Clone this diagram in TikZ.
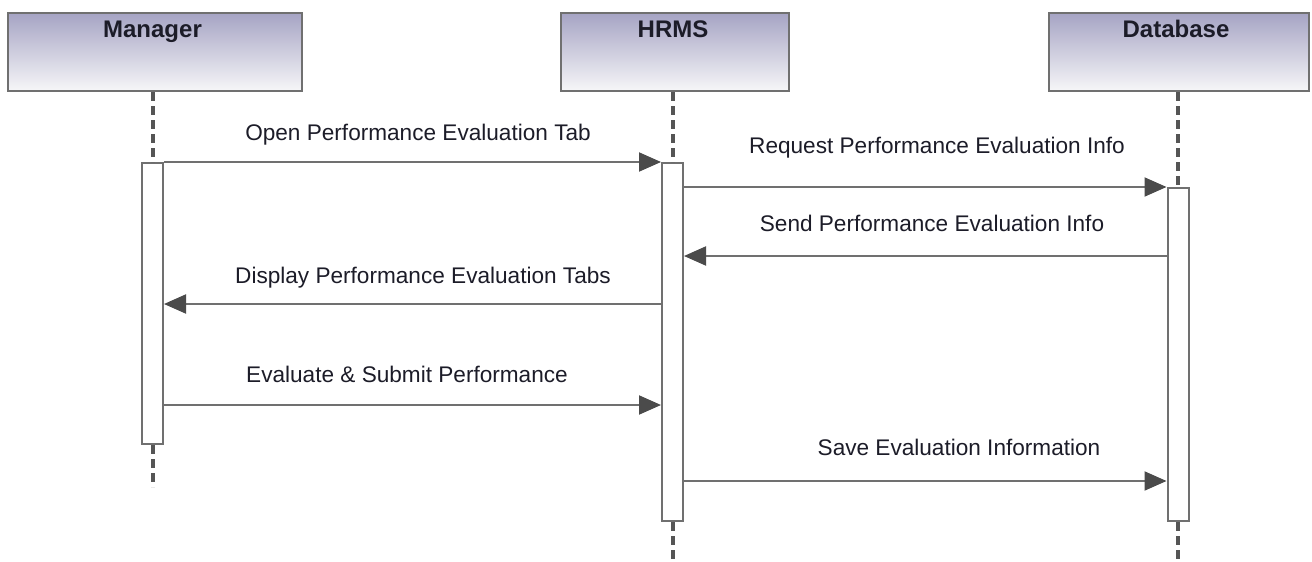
\documentclass[tikz,border=0pt]{standalone}
\usepackage{fontspec}
\setmainfont{Liberation Sans}
\usetikzlibrary{arrows.meta,calc}
\definecolor{hdrtop}{RGB}{166,164,196}
\definecolor{hdrbot}{RGB}{246,246,248}
\definecolor{edge}{RGB}{112,112,112}
\definecolor{dashc}{RGB}{85,85,85}
\definecolor{tipc}{RGB}{75,75,75}
\definecolor{txt}{RGB}{28,28,40}
\tikzset{
  hdr/.style={draw=edge, line width=2pt, top color=hdrtop, bottom color=hdrbot, inner sep=0pt, anchor=north west},
  hdrtext/.style={font=\fontsize{24}{28}\selectfont\bfseries, text=txt, anchor=base, inner sep=0pt},
  actbox/.style={draw=edge, line width=2pt, fill=white, inner sep=0pt, minimum width=21pt, anchor=north},
  life/.style={draw=dashc, line width=4pt, dash pattern=on 9pt off 5pt},
  msg/.style={draw=edge, line width=2pt, -{Triangle[length=22pt,width=19pt,fill=tipc,color=tipc]}},
  lbl/.style={font=\fontsize{22.6}{26}\selectfont, text=txt, anchor=base, inner sep=0pt}
}
\begin{document}
\begin{tikzpicture}[x=1pt,y=-1pt]
\useasboundingbox (0,0) rectangle (1312,562);
% header boxes
\node[hdr, minimum width=294pt, minimum height=78pt] (mgr) at (7,12) {};
\node[hdr, minimum width=228pt, minimum height=78pt] (hrms) at (560,12) {};
\node[hdr, minimum width=260pt, minimum height=78pt] (db) at (1048,12) {};
\node[hdrtext] (tmgr) at (152.5,37) {Manager};
\node[hdrtext] (thrms) at (673,37) {HRMS};
\node[hdrtext] (tdb) at (1176,37) {Database};
% activation boxes
\node[actbox, minimum height=281pt] (actM) at (152.5,162) {};
\node[actbox, minimum height=358pt] (actH) at (672.5,162) {};
\node[actbox, minimum height=333pt] (actD) at (1178,187) {};
% lifeline ends
\coordinate (endM) at (152.5,487);
\coordinate (endH) at (672.5,562);
\coordinate (endD) at (1178,562);
% lifelines
\draw[life] (actM.north |- mgr.south) -- (actM.north);
\draw[life] (actH.north |- hrms.south) -- (actH.north);
\draw[life] (actD.north |- db.south) -- (actD.north);
\draw[life] (actM.south) -- (endM);
\draw[life] (actH.south) -- (endH);
\draw[life] (actD.south) -- (endD);
% message levels
\coordinate (y1) at (0,162);
\coordinate (y2) at (0,187);
\coordinate (y3) at (0,256);
\coordinate (y4) at (0,304);
\coordinate (y5) at (0,405);
\coordinate (y6) at (0,481);
% messages
\draw[msg] (actM.east |- y1) -- (actH.west |- y1);
\draw[msg] (actH.east |- y2) -- (actD.west |- y2);
\draw[msg] (actD.west |- y3) -- (actH.east |- y3);
\draw[msg] (actH.west |- y4) -- (actM.east |- y4);
\draw[msg] (actM.east |- y5) -- (actH.west |- y5);
\draw[msg] (actH.east |- y6) -- (actD.west |- y6);
% labels
\node[lbl] (l1) at (418,140) {Open Performance Evaluation Tab};
\node[lbl] (l2) at (937,153) {Request Performance Evaluation Info};
\node[lbl] (l3) at (932,231) {Send Performance Evaluation Info};
\node[lbl] (l4) at (423,283) {Display Performance Evaluation Tabs};
\node[lbl] (l5) at (407,382) {Evaluate \& Submit Performance};
\node[lbl] (l6) at (959,455) {Save Evaluation Information};
\end{tikzpicture}
\end{document}
